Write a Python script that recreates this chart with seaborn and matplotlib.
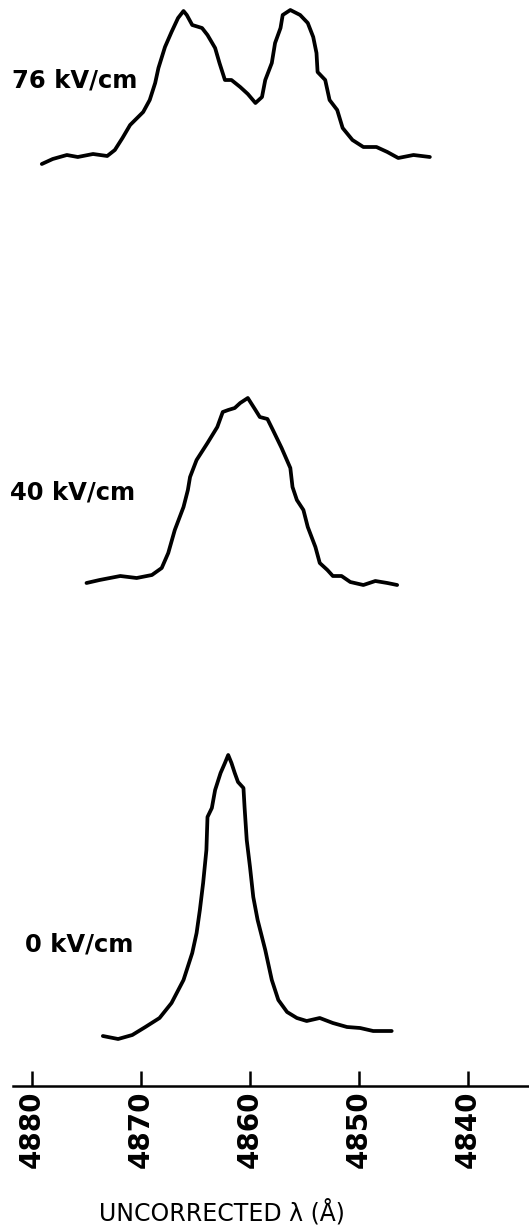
import matplotlib
matplotlib.use("Agg")
import matplotlib.pyplot as plt
import seaborn as sns
import pandas as pd

# ---- data ----
wl_76 = [4879.1, 4878.1, 4876.8, 4875.8, 4874.4, 4873.1, 4872.4, 4871.7, 4871.0, 4869.8,
         4869.2, 4868.7, 4868.4, 4867.8, 4867.2, 4866.6, 4866.1, 4865.8, 4865.3, 4864.4,
         4863.9, 4863.2, 4862.8, 4862.3, 4861.7, 4860.9, 4860.2, 4859.5, 4858.9, 4858.6,
         4858.0, 4857.7, 4857.2, 4857.0, 4856.3, 4855.4, 4854.7, 4854.2, 4853.9, 4853.8,
         4853.1, 4852.7, 4852.0, 4851.5, 4850.6, 4849.6, 4848.4, 4847.4, 4846.4, 4845.0,
         4843.5]
int_76 = [-4, 1, 5, 3, 6, 4, 10, 22, 35, 48,
          60, 77, 92, 113, 128, 142, 149, 145, 135, 132,
          125, 112, 97, 80, 80, 73, 66, 57, 63, 80,
          97, 117, 132, 145, 150, 145, 137, 123, 107, 88,
          80, 60, 50, 32, 20, 13, 13, 8, 2, 5,
          3]

wl_40 = [4875.0, 4873.8, 4871.9, 4870.4, 4869.0, 4868.1, 4867.5, 4866.9, 4866.1, 4865.7,
         4865.5, 4864.9, 4863.9, 4863.0, 4862.5, 4862.0, 4861.4, 4860.9, 4860.2, 4859.5,
         4859.1, 4858.4, 4857.9, 4857.1, 4856.3, 4856.1, 4855.7, 4855.1, 4854.7, 4854.0,
         4853.6, 4852.9, 4852.4, 4851.6, 4850.8, 4849.6, 4848.5, 4847.4, 4846.5]
int_40 = [0, 3, 7, 5, 8, 15, 30, 53, 76, 93,
          106, 123, 140, 156, 171, 173, 175, 180, 185, 173,
          166, 164, 153, 135, 115, 96, 83, 73, 56, 36,
          20, 13, 7, 7, 1, -2, 2, 0, -2]

wl_0 = [4873.5, 4872.1, 4870.8, 4869.6, 4868.3, 4867.2, 4866.1, 4865.3, 4864.9, 4864.6,
        4864.3, 4864.0, 4863.9, 4863.5, 4863.2, 4862.7, 4862.3, 4862.0, 4861.7, 4861.4,
        4861.1, 4860.6, 4860.5, 4860.3, 4860.0, 4859.7, 4859.3, 4858.6, 4858.0, 4857.4,
        4856.6, 4855.7, 4854.8, 4853.6, 4852.4, 4851.1, 4849.9, 4848.7, 4847.0]
int_0 = [1, -2, 2, 10, 19, 34, 57, 84, 104, 127,
         154, 187, 220, 229, 247, 264, 274, 282, 274, 264,
         255, 249, 230, 197, 170, 140, 117, 87, 57, 37,
         25, 19, 16, 19, 14, 10, 9, 6, 6]

labels = ["76 kV/cm", "40 kV/cm", "0 kV/cm"]
xticks = [4880, 4870, 4860, 4850, 4840]
xlabel = "UNCORRECTED λ (Å)"

# ---- layout ----
W, H = 529, 1232
fig = plt.figure(figsize=(W / 100, H / 100), dpi=100)
sns.set_style("white")
plt.rcParams["font.family"] = ["DejaVu Sans"]

axis_y_px = 1086
ax = fig.add_axes([0, 1 - axis_y_px / H, 1, axis_y_px / H])

px_per_A = 10.9
x0_px = 32
ax.set_xlim(4880 + x0_px / px_per_A, 4880 - (W - x0_px) / px_per_A)
ax.set_ylim(0, axis_y_px)

offsets = [1086 - 160, 1086 - 583, 1086 - 1037]
series = [(wl_76, int_76), (wl_40, int_40), (wl_0, int_0)]
for (wl, it), off in zip(series, offsets):
    df = pd.DataFrame({"wl": wl, "y": [v + off for v in it]})
    sns.lineplot(data=df, x="wl", y="y", ax=ax, color="black", lw=2.7,
                 sort=False, estimator=None, solid_joinstyle="round",
                 solid_capstyle="round")

label_pos = [(12, 80), (10, 492), (25, 945)]
for lab, (px, py) in zip(labels, label_pos):
    fig.text(px / W, 1 - py / H, lab, fontsize=17.5, fontweight="bold",
             ha="left", va="center", color="black")

for s in ["left", "top", "right"]:
    ax.spines[s].set_visible(False)
ax.spines["bottom"].set_linewidth(1.8)
ax.spines["bottom"].set_color("black")
ax.spines["bottom"].set_bounds(4880 + (x0_px - 13) / px_per_A, ax.get_xlim()[1])
ax.set_yticks([])
ax.set_xticks(xticks)
ax.set_xticklabels([str(t) for t in xticks], rotation=90, fontsize=20,
                   fontweight="bold", va="top", color="black")
ax.tick_params(axis="x", bottom=True, direction="in", length=11, width=1.8,
               pad=3, color="black", labelcolor="black")
ax.set_xlabel("")
ax.set_ylabel("")

fig.text(222 / W, 1 - 1212 / H, xlabel, fontsize=17, ha="center", va="center",
         color="black")

fig.savefig("out.png", dpi=100, facecolor="white")
